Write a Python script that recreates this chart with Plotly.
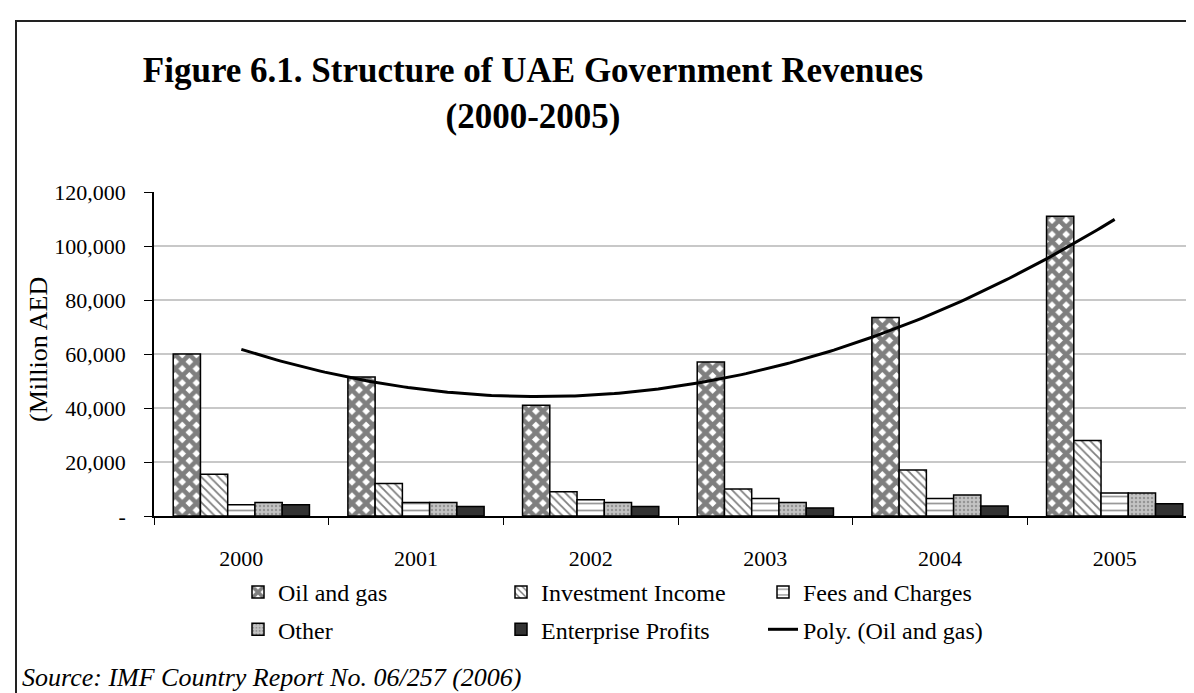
import numpy as np
import plotly.graph_objects as go

# ---------------- data ----------------
years = ["2000", "2001", "2002", "2003", "2004", "2005"]
oil_gas = [60000, 51500, 41000, 57000, 73500, 111000]
investment_income = [15500, 12000, 9000, 10000, 17000, 28000]
fees_charges = [4200, 5000, 6000, 6500, 6500, 8500]
other = [5000, 5000, 5000, 5000, 7800, 8500]
enterprise_profits = [4200, 3500, 3500, 3000, 3700, 4500]

y_tickvals = [0, 20000, 40000, 60000, 80000, 100000, 120000]
y_ticktext = ["-", "20,000", "40,000", "60,000", "80,000", "100,000", "120,000"]

# ---------------- geometry helpers ----------------
W, H = 1194, 693
L, R, T, B = 146, 0, 184, 185
PW, PH = W - L - R, H - T - B


def px_x(px):
    return (px - L) / PW


def px_y(py):
    return (H - B - py) / PH


FONT = "Liberation Serif"
xpos = list(range(len(years)))

fig = go.Figure()
outline = dict(color="black", width=1.5)

fig.add_trace(go.Bar(
    x=xpos, y=oil_gas, name="Oil and gas", legend="legend", legendgroup="a",
    marker=dict(color="white", line=outline,
                pattern=dict(shape="x", fgcolor="black", bgcolor="white",
                             size=10, solidity=0.7)),
))
fig.add_trace(go.Bar(
    x=xpos, y=investment_income, name="Investment Income", legend="legend2",
    legendgroup="b",
    marker=dict(color="white", line=outline,
                pattern=dict(shape="\\", fgcolor="black", bgcolor="white",
                             size=6, solidity=0.3)),
))
fig.add_trace(go.Bar(
    x=xpos, y=fees_charges, name="Fees and Charges", legend="legend3",
    legendgroup="c",
    marker=dict(color="white", line=outline,
                pattern=dict(shape="-", fgcolor="#333333", bgcolor="white",
                             size=7, solidity=0.25)),
))
fig.add_trace(go.Bar(
    x=xpos, y=other, name="Other", legend="legend", legendgroup="d",
    marker=dict(color="#b8b8b8", line=outline,
                pattern=dict(shape=".", fgcolor="#666666", bgcolor="#c4c4c4",
                             size=4, solidity=0.3)),
))
fig.add_trace(go.Bar(
    x=xpos, y=enterprise_profits, name="Enterprise Profits", legend="legend2",
    legendgroup="e",
    marker=dict(color="#333333", line=outline),
))

# polynomial (order 2) trendline of Oil and gas, as in the source chart
coef = np.polyfit(xpos, oil_gas, 2)
xt = np.linspace(xpos[0], xpos[-1], 200)
fig.add_trace(go.Scatter(
    x=xt, y=np.polyval(coef, xt), mode="lines", name="Poly. (Oil and gas)",
    legend="legend3", legendgroup="f", line=dict(color="black", width=3),
))

legend_common = dict(
    orientation="v", xref="paper", yref="paper",
    xanchor="left", yanchor="top", bgcolor="rgba(0,0,0,0)",
    tracegroupgap=3,
    font=dict(family=FONT, size=24, color="black"),
)
LEG_TOP = 562

fig.update_layout(
    width=W, height=H,
    margin=dict(l=L, r=R, t=T, b=B, autoexpand=False),
    paper_bgcolor="white", plot_bgcolor="white",
    barmode="group", bargap=0.22, bargroupgap=0,
    font=dict(family=FONT, color="black"),
    title=dict(
        text="Figure 6.1. Structure of UAE Government Revenues<br>(2000-2005)",
        x=525 / W, xanchor="center", xref="container",
        y=1 - 74 / H, yanchor="top", yref="container",
        font=dict(family=FONT, size=35, color="black", weight="bold"),
    ),
    legend=dict(legend_common, x=px_x(230), y=px_y(LEG_TOP)),
    legend2=dict(legend_common, x=px_x(493), y=px_y(LEG_TOP)),
    legend3=dict(legend_common, x=px_x(755), y=px_y(LEG_TOP)),
    xaxis=dict(
        range=[-0.5, len(years) - 0.5],
        tickmode="array", tickvals=xpos, ticktext=years, ticks="",
        ticklabelstandoff=22,
        tickfont=dict(family=FONT, size=22, color="black"),
        showline=True, linecolor="black", linewidth=1.5,
        showgrid=False, zeroline=False,
        minor=dict(tick0=-0.5, dtick=1, ticks="outside", ticklen=7,
                   tickcolor="black", tickwidth=1, showgrid=False),
    ),
    yaxis=dict(
        range=[0, 120000],
        tickmode="array", tickvals=y_tickvals, ticktext=y_ticktext,
        ticks="outside", ticklen=8, tickcolor="black", tickwidth=1,
        ticklabelstandoff=14,
        tickfont=dict(family=FONT, size=22, color="black"),
        showline=True, linecolor="black", linewidth=1.5,
        showgrid=True, gridcolor="#c8c8c8", gridwidth=1.5, zeroline=False,
    ),
    showlegend=True,
)

fig.add_annotation(
    text="(Million AED", xref="paper", yref="paper",
    x=px_x(30), y=px_y(342), textangle=-90, showarrow=False,
    font=dict(family=FONT, size=26, color="black"),
    xanchor="center", yanchor="middle",
)
fig.add_annotation(
    text="<i>Source: IMF Country Report No. 06/257 (2006)</i>",
    xref="paper", yref="paper", x=px_x(12), y=px_y(669),
    xanchor="left", yanchor="middle", showarrow=False,
    font=dict(family=FONT, size=26, color="black"),
)
fig.add_shape(
    type="rect", xref="paper", yref="paper",
    x0=px_x(8), x1=px_x(1210), y0=px_y(710), y1=px_y(13),
    line=dict(color="#222222", width=2), fillcolor="rgba(0,0,0,0)",
    layer="below",
)

fig.write_html("out.html")
